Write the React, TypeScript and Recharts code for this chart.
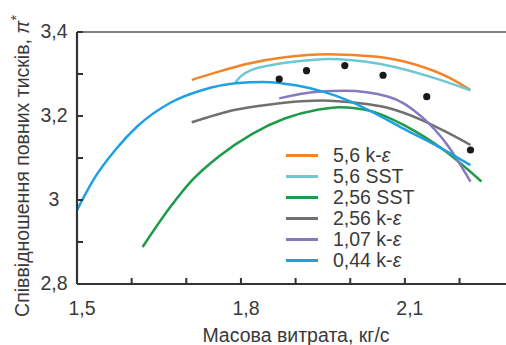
import React from "react";
import { ComposedChart, Line, Scatter, XAxis, YAxis, ReferenceLine } from "recharts";

// mass flow (kg/s) -> total pressure ratio
const k56X = [1.71, 1.75, 1.81, 1.88, 1.96, 2.05, 2.12, 2.18, 2.22];
const k56Y = [3.286, 3.302, 3.324, 3.340, 3.347, 3.341, 3.322, 3.292, 3.262];

const sst56X = [1.79, 1.80, 1.82, 1.85, 1.9, 1.96, 2.05, 2.15, 2.22];
const sst56Y = [3.280, 3.295, 3.310, 3.320, 3.330, 3.336, 3.325, 3.292, 3.261];

const sst256X = [1.62, 1.67, 1.71, 1.76, 1.82, 1.88, 1.94, 1.98, 2.04, 2.1, 2.17, 2.24];
const sst256Y = [2.888, 2.982, 3.046, 3.104, 3.157, 3.194, 3.215, 3.221, 3.211, 3.177, 3.12, 3.044];

const k256X = [1.71, 1.79, 1.85, 1.91, 1.95, 1.98, 2.07, 2.13, 2.18, 2.22];
const k256Y = [3.185, 3.215, 3.227, 3.235, 3.237, 3.235, 3.219, 3.191, 3.159, 3.131];

const k107X = [1.87, 1.94, 1.99, 2.07, 2.13, 2.18, 2.22];
const k107Y = [3.242, 3.258, 3.260, 3.246, 3.199, 3.127, 3.044];

const k044X = [1.5, 1.53, 1.57, 1.61, 1.67, 1.73, 1.79, 1.84, 1.9, 1.95, 2.0, 2.06, 2.1, 2.15, 2.22];
const k044Y = [2.976, 3.048, 3.119, 3.175, 3.231, 3.262, 3.278, 3.281, 3.273, 3.258, 3.235, 3.196, 3.168, 3.135, 3.083];

const expX = [1.87, 1.92, 1.99, 2.06, 2.14, 2.22];
const expY = [3.288, 3.308, 3.320, 3.297, 3.246, 3.119];

const xTicks = [1.5, 1.6, 1.7, 1.8, 1.9, 2.0, 2.1, 2.2];
const xLabels: Record<string, string> = { "1.5": "1,5", "1.8": "1,8", "2.1": "2,1" };
const yTicks = [2.8, 2.9, 3.0, 3.1, 3.2, 3.3, 3.4];
const yLabels: Record<string, string> = { "2.8": "2,8", "3": "3", "3.2": "3,2", "3.4": "3,4" };

const zip = (xs: number[], ys: number[]) => xs.map((x, i) => ({ x, y: ys[i] }));

const series = [
  { name: "5,6 k-ε", color: "#F2852A", data: zip(k56X, k56Y) },
  { name: "5,6 SST", color: "#6CC8D2", data: zip(sst56X, sst56Y) },
  { name: "2,56 SST", color: "#1E9A48", data: zip(sst256X, sst256Y) },
  { name: "2,56 k-ε", color: "#707070", data: zip(k256X, k256Y) },
  { name: "1,07 k-ε", color: "#8878C0", data: zip(k107X, k107Y) },
  { name: "0,44 k-ε", color: "#20A0E0", data: zip(k044X, k044Y) },
];

const FONT = "'Liberation Sans', Arial, sans-serif";
const TXT = "#3a3a3a";

// tick mark + optional label, drawn inward from the axis line
const BottomTick = (p: any) => {
  const lbl = xLabels[String(p.payload.value)];
  return (
    <g>
      <rect x={p.x - 1} y={p.y - 6} width={2} height={6} fill="#333" />
      {lbl && (
        <text x={p.x + 5} y={p.y + 31} textAnchor="middle" fontSize={19.5} fill={TXT} fontFamily={FONT}>
          {lbl}
        </text>
      )}
    </g>
  );
};

const LeftTick = (p: any) => {
  const lbl = yLabels[String(p.payload.value)];
  return (
    <g>
      <rect x={p.x} y={p.y - 1} width={6} height={2} fill="#333" />
      {lbl && (
        <text x={p.x - 23} y={p.y + 6} textAnchor="middle" fontSize={19.5} fill={TXT} fontFamily={FONT}>
          {lbl}
        </text>
      )}
    </g>
  );
};

const TopTick = (p: any) => <rect x={p.x - 0.8} y={p.y} width={1.6} height={5} fill="#555" />;

const renderName = (name: string) => {
  const i = name.indexOf("ε");
  if (i < 0) return name;
  return (
    <>
      {name.slice(0, i)}
      <i>ε</i>
    </>
  );
};

const LegendBox = () => (
  <div style={{ position: "absolute", left: 286, top: 144.5, fontFamily: FONT, fontSize: 19.5, color: TXT }}>
    {series.map((s) => (
      <div key={s.name} style={{ display: "flex", alignItems: "center", height: 21 }}>
        <span style={{ display: "inline-block", width: 32, height: 3, background: s.color, marginRight: 15 }} />
        <span style={{ lineHeight: "21px", whiteSpace: "nowrap" }}>{renderName(s.name)}</span>
      </div>
    ))}
  </div>
);

export default function App() {
  return (
    <div style={{ position: "absolute", left: 0, top: 0, width: 506, height: 345, background: "#fff", overflow: "hidden" }}>
      <ComposedChart width={506} height={345} margin={{ top: 32, right: 0, bottom: 0, left: 0 }}>
        <XAxis
          type="number"
          dataKey="x"
          domain={[1.5, 2.285]}
          ticks={xTicks}
          height={61}
          tickSize={0}
          tickMargin={0}
          tickLine={false}
          tick={<BottomTick />}
          axisLine={{ stroke: "#333", strokeWidth: 2.2 }}
          allowDataOverflow
          interval={0}
        />
        <XAxis
          xAxisId="top"
          orientation="top"
          type="number"
          dataKey="x"
          domain={[1.5, 2.285]}
          ticks={xTicks}
          height={0}
          tickSize={0}
          tickMargin={0}
          tickLine={false}
          tick={<TopTick />}
          axisLine={false}
          allowDataOverflow
          interval={0}
        />
        <YAxis
          type="number"
          dataKey="y"
          domain={[2.8, 3.4]}
          ticks={yTicks}
          width={77}
          tickSize={0}
          tickMargin={0}
          tickLine={false}
          tick={<LeftTick />}
          axisLine={{ stroke: "#333", strokeWidth: 2.2 }}
          allowDataOverflow
          interval={0}
        />
        <ReferenceLine y={3.4} stroke="#5a5a5a" strokeWidth={1.6} ifOverflow="visible" />
        {series.map((s) => (
          <Line
            key={s.name}
            data={s.data}
            dataKey="y"
            name={s.name}
            type="monotone"
            stroke={s.color}
            strokeWidth={2.5}
            dot={false}
            activeDot={false}
            isAnimationActive={false}
          />
        ))}
        <Scatter
          data={zip(expX, expY)}
          dataKey="y"
          fill="#1a1a1a"
          legendType="none"
          isAnimationActive={false}
          shape={(p: any) => <circle cx={p.cx} cy={p.cy} r={3.6} fill="#1a1a1a" />}
        />
        <Line
          xAxisId="top"
          data={zip(xTicks, xTicks.map(() => 3.4))}
          dataKey="y"
          stroke="none"
          dot={false}
          activeDot={false}
          legendType="none"
          isAnimationActive={false}
        />
      </ComposedChart>
      <LegendBox />
      <svg width={506} height={345} style={{ position: "absolute", left: 0, top: 0, pointerEvents: "none" }}>
        <text x={296} y={342} textAnchor="middle" fontSize={19.5} fill={TXT} fontFamily={FONT}>
          Масова витрата, кг/с
        </text>
        <text
          transform="translate(29,166) rotate(-90)"
          textAnchor="middle"
          fontSize={19.5}
          fill={TXT}
          fontFamily={FONT}
        >
          Співвідношення повних тисків, <tspan fontStyle="italic">π</tspan>
          <tspan dy={-8} fontSize={14}>*</tspan>
        </text>
      </svg>
    </div>
  );
}
